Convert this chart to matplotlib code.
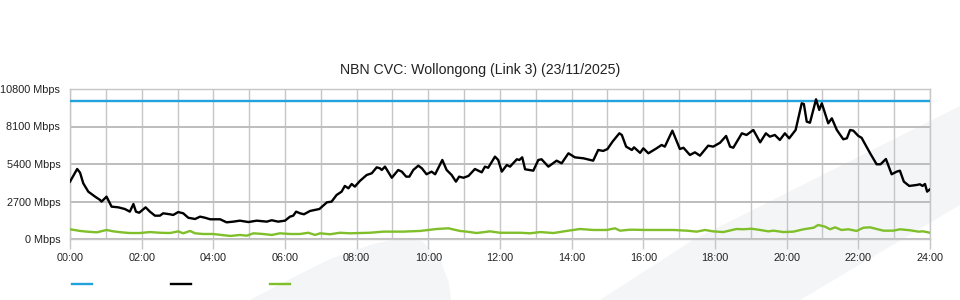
import numpy as np
import matplotlib.pyplot as plt
from matplotlib.lines import Line2D
from matplotlib.patches import Polygon

plt.rcParams['font.family'] = ['Liberation Sans', 'DejaVu Sans']

TITLE = "NBN CVC: Wollongong (Link 3) (23/11/2025)"

# link capacity (Mbps)
capacity_mbps = 9950

# download traffic, hours since midnight / Mbps
down_hours = [
    0.00, 0.20, 0.28, 0.37, 0.51, 0.70, 0.84, 0.88, 1.02, 1.16, 1.35, 1.53, 1.67, 1.77,
    1.84, 1.93, 2.11, 2.23, 2.37, 2.51, 2.60, 2.79, 2.88, 3.02, 3.16, 3.30, 3.49, 3.63,
    3.77, 3.91, 4.19, 4.37, 4.56, 4.74, 4.98, 5.21, 5.49, 5.63, 5.81, 6.00, 6.14, 6.23,
    6.31, 6.42, 6.53, 6.70, 6.96, 7.17, 7.30, 7.44, 7.58, 7.67, 7.77, 7.86, 7.95, 8.09,
    8.28, 8.42, 8.56, 8.65, 8.70, 8.79, 8.98, 9.16, 9.26, 9.38, 9.47, 9.58, 9.72, 9.82,
    9.95, 10.09, 10.19, 10.39, 10.51, 10.65, 10.77, 10.86, 10.98, 11.12, 11.30, 11.49,
    11.58, 11.67, 11.86, 11.95, 12.05, 12.19, 12.28, 12.47, 12.54, 12.62, 12.70, 12.93,
    13.07, 13.16, 13.35, 13.58, 13.72, 13.91, 14.09, 14.33, 14.60, 14.74, 14.88, 15.00,
    15.14, 15.33, 15.40, 15.52, 15.68, 15.74, 15.91, 16.00, 16.14, 16.37, 16.51, 16.60,
    16.81, 17.02, 17.12, 17.30, 17.44, 17.58, 17.81, 17.95, 18.14, 18.31, 18.42, 18.51,
    18.75, 18.88, 19.07, 19.26, 19.42, 19.53, 19.67, 19.81, 19.95, 20.07, 20.25, 20.42,
    20.48, 20.56, 20.65, 20.82, 20.91, 20.98, 21.16, 21.26, 21.40, 21.58, 21.68, 21.77,
    21.86, 22.00, 22.09, 22.33, 22.51, 22.62, 22.77, 22.93, 23.07, 23.16, 23.27, 23.42,
    23.63, 23.72, 23.79, 23.86, 23.92, 24.00,
]
down_mbps = [
    4130, 5040, 4780, 4010, 3410, 3050, 2810, 2690, 3050, 2330, 2280, 2160, 1970, 2520,
    1970, 1890, 2280, 1970, 1680, 1680, 1850, 1780, 1730, 1940, 1850, 1530, 1440, 1610,
    1530, 1420, 1420, 1200, 1250, 1320, 1220, 1320, 1250, 1350, 1250, 1320, 1610, 1680,
    1970, 1850, 1780, 2020, 2160, 2640, 2690, 3170, 3410, 3820, 3650, 3960, 3770, 4180,
    4610, 4730, 5160, 5090, 4970, 5210, 4410, 4970, 4850, 4490, 4490, 4970, 5280, 5090,
    4660, 4850, 4660, 5690, 4970, 4610, 4130, 4490, 4410, 4540, 5040, 4800,
    5210, 5130, 5930, 5690, 4850, 5330, 5210, 5740, 5690, 5880, 5020, 4920,
    5690, 5740, 5210, 5640, 5450, 6170, 5880, 5810, 5640, 6410, 6340, 6480,
    7010, 7610, 7490, 6650, 6410, 6600, 6200, 6530, 6170, 6530, 6770, 6650,
    7800, 6480, 6570, 6050, 6240, 6000, 6720, 6650, 6930, 7420, 6650, 6570,
    7610, 7490, 7850, 6960, 7610, 7370, 7490, 7130, 7610, 7250, 7850, 9770,
    9720, 8450, 8370, 10060, 9290, 9770, 8330, 8690, 7850, 7180, 7250, 7850,
    7800, 7420, 7290, 6170, 5380, 5380, 5760, 4660, 4850, 4920, 4130, 3820,
    3890, 3940, 3820, 3960, 3410, 3580,
]

# upload traffic, hours since midnight / Mbps
up_hours = [
    0.00, 0.28, 0.47, 0.75, 1.02, 1.21, 1.44, 1.67, 1.95, 2.23, 2.51, 2.79, 3.02, 3.16,
    3.35, 3.49, 3.72, 4.00, 4.23, 4.47, 4.74, 4.93, 5.12, 5.39, 5.63, 5.86, 6.14, 6.42,
    6.65, 6.84, 6.98, 7.26, 7.53, 7.81, 8.37, 8.74, 9.30, 9.77, 10.23, 10.56, 10.88,
    11.07, 11.35, 11.72, 12.00, 12.56, 12.84, 13.12, 13.49, 13.86, 14.23, 14.60, 14.98,
    15.21, 15.35, 15.63, 16.09, 16.47, 16.84, 17.21, 17.49, 17.72, 17.95, 18.23, 18.60,
    18.79, 19.02, 19.26, 19.49, 19.63, 19.91, 20.19, 20.47, 20.75, 20.88, 21.07, 21.21,
    21.35, 21.53, 21.72, 21.95, 22.14, 22.33, 22.51, 22.70, 22.98, 23.16, 23.44, 23.67,
    23.81, 24.00,
]
up_mbps = [
    700, 580, 530, 480, 650, 550, 480, 430, 430, 500, 450, 430, 550, 410,
    580, 410, 360, 360, 290, 220, 290, 240, 410, 360, 290, 410, 360, 360,
    450, 290, 410, 340, 450, 410, 450, 530, 530, 580, 720, 770, 580,
    530, 430, 550, 450, 450, 410, 500, 430, 580, 720, 650, 650,
    770, 600, 670, 650, 650, 650, 600, 530, 650, 550, 500, 720,
    700, 740, 650, 550, 600, 500, 530, 700, 810, 1010, 890, 700,
    840, 650, 700, 580, 810, 840, 720, 600, 600, 700, 630, 530,
    550, 450,
]

y_ticks = [0, 2700, 5400, 8100, 10800]
x_ticks = list(range(0, 25, 2))

BLUE = '#22a3de'
BLACK = '#000000'
GREEN = '#7fbf2a'
GRID = '#c6c6c6'

W, H = 960, 300
fig = plt.figure(figsize=(W / 100, H / 100), dpi=100)


def px(x, y):
    return (x / W, 1 - y / H)


# faint watermark shapes behind everything
leaf = [(250, 300), (290, 279), (330, 259), (370, 245), (400, 238), (422, 241),
        (440, 259), (449, 283), (451, 300)]
band = [(600, 300), (693, 240), (960, 106), (960, 205), (800, 300)]
for shape in (leaf, band):
    fig.patches.append(Polygon([px(*p) for p in shape], closed=True,
                               transform=fig.transFigure, facecolor='#f4f5f7',
                               edgecolor='none', zorder=-5))

ax = fig.add_axes([70 / W, 1 - 239 / H, 860 / W, 150 / H])
ax.set_zorder(2)
ax.set_facecolor('none')

ax.axhline(capacity_mbps, color=BLUE, lw=1.7, zorder=3)
ax.plot(down_hours, down_mbps, color=BLACK, lw=1.7, zorder=4)
ax.plot(up_hours, up_mbps, color=GREEN, lw=1.7, zorder=3)

ax.set_xlim(0, 24)
ax.set_ylim(0, 10800)
ax.set_yticks(y_ticks)
ax.set_yticklabels([f"{v} Mbps" for v in y_ticks])
ax.set_xticks(x_ticks)
ax.set_xticklabels([f"{h:02d}:00" for h in x_ticks])
ax.set_xticks(range(25), minor=True)

ax.grid(axis='x', which='both', color=GRID, lw=1.0, zorder=1)
ax.grid(axis='y', which='major', color='#bdbdbd', lw=1.4, zorder=1)
ax.set_axisbelow(True)

ax.tick_params(axis='y', length=0, pad=7, labelsize=7.8, labelcolor='#222222')
ax.tick_params(axis='x', which='major', length=7, width=1, color=GRID,
               pad=3, labelsize=7.8, labelcolor='#222222')
ax.tick_params(axis='x', which='minor', length=0)
for s in ax.spines.values():
    s.set_color(GRID)
    s.set_linewidth(1.0)

fig.text(0.5, 1 - 70 / H, TITLE, ha='center', va='center', fontsize=10.2,
         color='#222222')

handles = [Line2D([], [], color=c, lw=1.7) for c in (BLUE, BLACK, GREEN)]
fig.legend(handles, ['', '', ''], ncol=3, loc='center left',
           bbox_to_anchor=px(62, 285), frameon=False, fontsize=8,
           handlelength=1.8, handletextpad=0.0, columnspacing=7.1)

fig.savefig('out.png', dpi=100)
